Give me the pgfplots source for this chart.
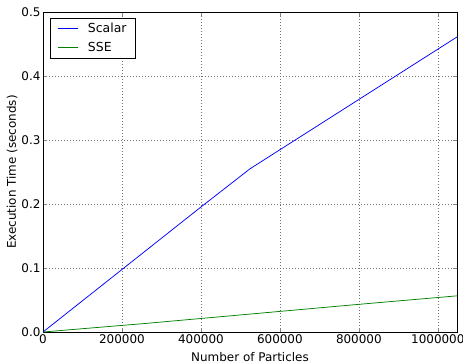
\documentclass[border=0pt]{standalone}
\usepackage{pgfplots}
\pgfplotsset{compat=1.18}
\usepackage{fontspec}
\setmainfont{DejaVu Sans}
\definecolor{mplblue}{rgb}{0,0,1}
\definecolor{mplgreen}{rgb}{0,0.5,0}
\begin{document}
\begin{tikzpicture}
\begin{axis}[
  scale only axis,
  width=414bp, height=320bp,
  xmin=0, xmax=1048576,
  ymin=0, ymax=0.5,
  xtick={0,200000,400000,600000,800000,1000000},
  ytick={0,0.1,0.2,0.3,0.4,0.5},
  scaled x ticks=false,
  scaled y ticks=false,
  xticklabel style={yshift=1bp,/pgf/number format/.cd,fixed,1000 sep={}},
  yticklabel style={xshift=1bp,/pgf/number format/.cd,fixed,fixed zerofill,precision=1},
  /pgf/number format/assume math mode=true,
  tick label style={font=\fontsize{12}{14}\selectfont},
  label style={font=\fontsize{12}{14}\selectfont},
  xlabel={Number of Particles},
  ylabel={Execution Time (seconds)},
  xlabel style={at={(axis description cs:0.5,0)}, anchor=center, yshift=-25bp},
  ylabel style={at={(axis description cs:0,0.5)}, anchor=center, yshift=31bp},
  tick align=inside,
  xtick pos=both, ytick pos=both,
  major tick length=4bp,
  grid=major,
  grid style={black!55, line width=0.5pt, dash pattern=on 0.7bp off 2.3bp},
  axis line style={black, line width=0.7pt},
  legend style={at={(rel axis cs:0,1)}, anchor=north west, xshift=7bp, yshift=-6bp,
    font=\fontsize{12.5}{15}\selectfont,
    inner xsep=7bp, inner ysep=3bp, row sep=4bp},
  legend cell align=left,
  legend image code/.code={\draw[#1] (0bp,0bp) -- (20bp,0bp);},
]
\addplot[draw=mplblue, line width=0.75pt] coordinates {
  (0,0) (131072,0.064) (262144,0.128) (393216,0.192) (524288,0.255) (786432,0.358) (1048576,0.461)
};
\addlegendentry{\hspace{8bp}Scalar}
\addplot[draw=mplgreen, line width=0.75pt] coordinates {
  (0,0) (262144,0.0135) (524288,0.0280) (786432,0.0425) (1048576,0.0565)
};
\addlegendentry{\hspace{8bp}SSE}
\end{axis}
\pgfresetboundingbox
\path ([xshift=-43bp,yshift=-31bp]current axis.south west) rectangle ([xshift=6bp,yshift=12bp]current axis.north east);
\end{tikzpicture}
\end{document}
